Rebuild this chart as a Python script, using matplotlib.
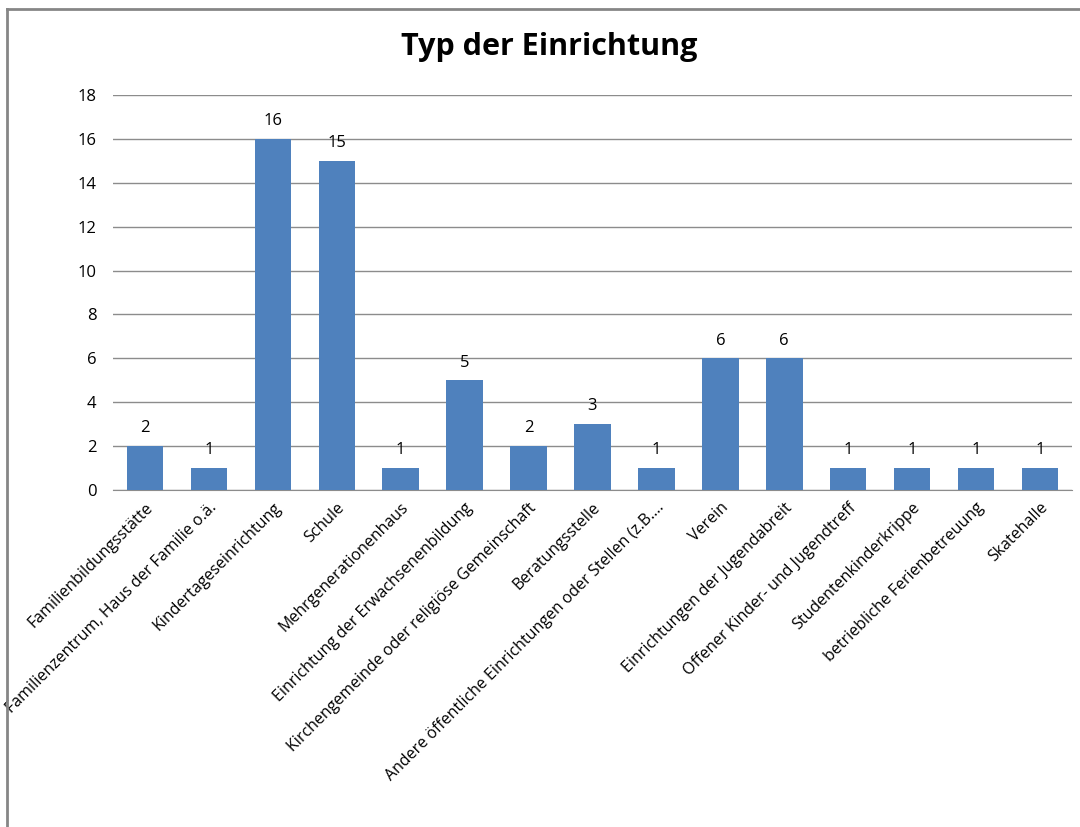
import matplotlib
matplotlib.use("Agg")
import matplotlib.pyplot as plt
from matplotlib.lines import Line2D

categories = [
    "Familienbildungsstätte",
    "Familienzentrum, Haus der Familie o.ä.",
    "Kindertageseinrichtung",
    "Schule",
    "Mehrgenerationenhaus",
    "Einrichtung der Erwachsenenbildung",
    "Kirchengemeinde oder religiöse Gemeinschaft",
    "Beratungsstelle",
    "Andere öffentliche Einrichtungen oder Stellen (z.B.…",
    "Verein",
    "Einrichtungen der Jugendabreit",
    "Offener Kinder- und Jugendtreff",
    "Studentenkinderkrippe",
    "betriebliche Ferienbetreuung",
    "Skatehalle",
]
values = [2, 1, 16, 15, 1, 5, 2, 3, 1, 6, 6, 1, 1, 1, 1]
yticks = [0, 2, 4, 6, 8, 10, 12, 14, 16, 18]
title = "Typ der Einrichtung"

plt.rcParams['font.family'] = ['Open Sans', 'DejaVu Sans']

W, H = 1080, 827
fig = plt.figure(figsize=(W / 100, H / 100), dpi=100)
ax = fig.add_axes([113 / W, 1 - 490 / H, (1072 - 113) / W, (490 - 95) / H])

x = list(range(len(categories)))
ax.bar(x, values, width=0.57, color="#4F81BD", zorder=3)
ax.set_xlim(-0.5, len(categories) - 0.5)
ax.set_ylim(0, 18)
ax.set_yticks(yticks)
ax.set_yticklabels([str(v) for v in yticks], fontsize=12)
ax.yaxis.grid(True, color="#8C8C8C", linewidth=1.0, zorder=0)
ax.set_axisbelow(True)
for s in ["top", "right", "left"]:
    ax.spines[s].set_visible(False)
ax.spines["bottom"].set_color("#8C8C8C")
ax.tick_params(axis="y", length=0, pad=12)
ax.tick_params(axis="x", length=0, pad=7)
ax.set_xticks(x)
ax.set_xticklabels(categories, rotation=45, ha="right", va="top",
                   rotation_mode="anchor", fontsize=11.5)

for xi, v in zip(x, values):
    ax.annotate(str(v), (xi, v), xytext=(0, 7), textcoords="offset points",
                ha="center", va="bottom", fontsize=12)

fig.text(549 / W, 1 - 47 / H, title, ha="center", va="center",
         fontsize=22, fontweight="bold")

# chart border (left and top visible)
fig.add_artist(Line2D([7 / W, 7 / W], [0, 1 - 9 / H], transform=fig.transFigure,
                      color="#868686", linewidth=2))
fig.add_artist(Line2D([7 / W, 1], [1 - 9 / H, 1 - 9 / H], transform=fig.transFigure,
                      color="#868686", linewidth=2))

fig.savefig("out.png", dpi=100)
